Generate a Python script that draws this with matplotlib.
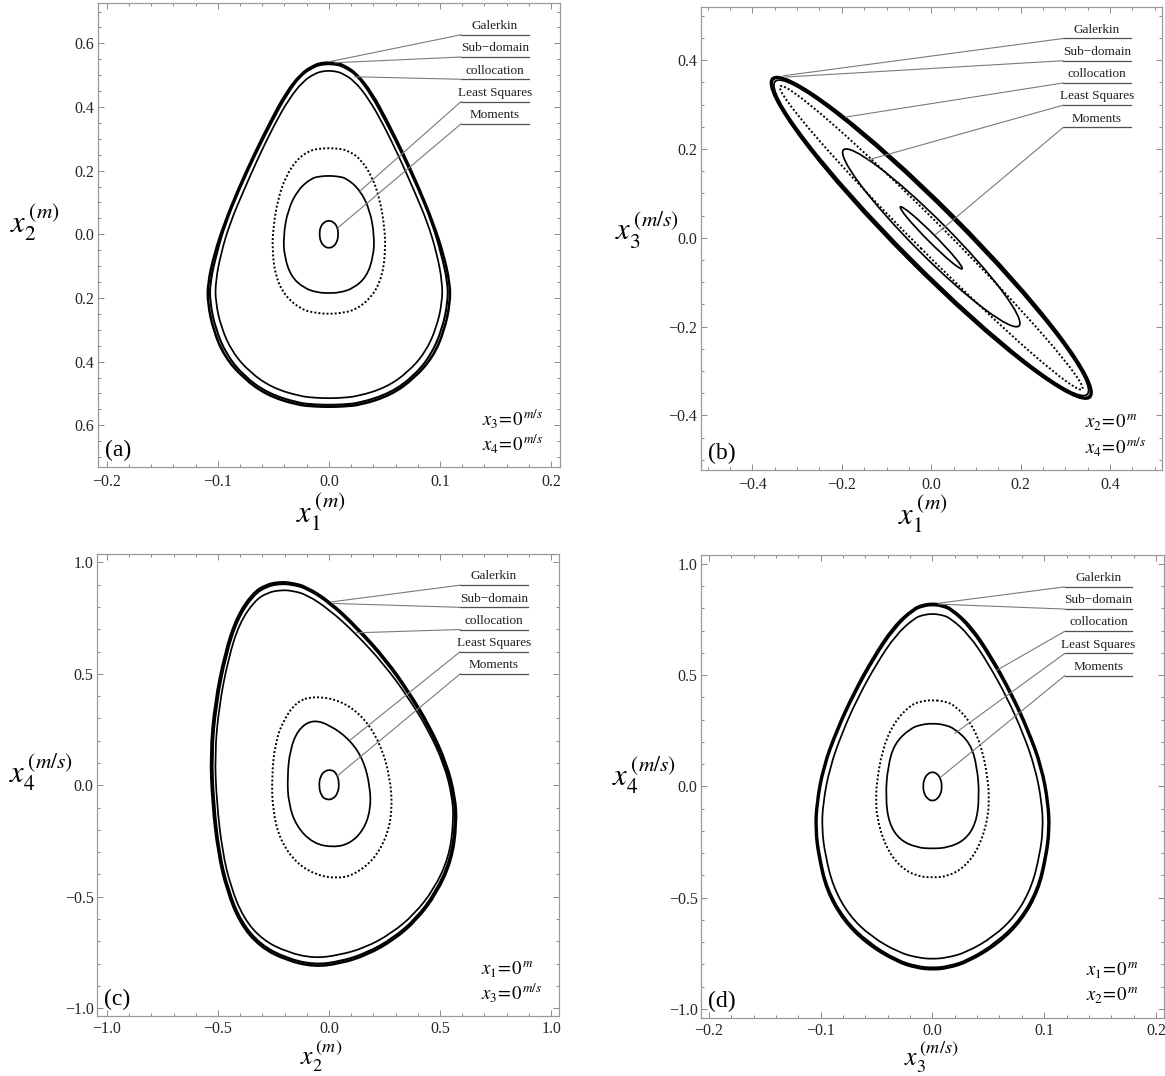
import numpy as np
import matplotlib.pyplot as plt
from matplotlib.patches import Ellipse, PathPatch
from matplotlib.path import Path
from matplotlib.ticker import MultipleLocator

plt.rcParams['font.family'] = ['Liberation Serif', 'DejaVu Serif']
plt.rcParams['mathtext.fontset'] = 'stix'

methods = ['Galerkin', 'Sub\u2212domain', 'collocation', 'Least Squares', 'Moments']

# ---- panel (a): x1-x2 plane, left halves (top -> bottom), curves are symmetric
a_gal_x = [0.000, -0.007, -0.013, -0.025, -0.039, -0.052, -0.067, -0.082, -0.094, -0.103, -0.109, -0.109, -0.104, -0.094, -0.077, -0.056, -0.029, -0.012, 0.000]
a_gal_y = [0.540, 0.538, 0.532, 0.506, 0.443, 0.359, 0.254, 0.139, 0.035, -0.060, -0.154, -0.217, -0.301, -0.384, -0.452, -0.505, -0.536, -0.541, -0.542]
a_sub_x = [0.000, -0.007, -0.013, -0.025, -0.038, -0.051, -0.066, -0.081, -0.093, -0.101, -0.107, -0.107, -0.102, -0.092, -0.076, -0.055, -0.028, -0.012, 0.000]
a_sub_y = [0.535, 0.533, 0.527, 0.501, 0.439, 0.356, 0.252, 0.138, 0.035, -0.059, -0.152, -0.214, -0.297, -0.379, -0.447, -0.499, -0.530, -0.535, -0.536]
a_col_x = [0.000, -0.006, -0.012, -0.023, -0.036, -0.049, -0.063, -0.077, -0.089, -0.097, -0.102, -0.102, -0.097, -0.087, -0.071, -0.051, -0.026, -0.011, 0.000]
a_col_y = [0.514, 0.512, 0.506, 0.482, 0.425, 0.345, 0.245, 0.135, 0.035, -0.058, -0.148, -0.212, -0.292, -0.370, -0.434, -0.482, -0.509, -0.514, -0.515]
a_dash_x = [0.000, -0.008, -0.016, -0.028, -0.039, -0.046, -0.050, -0.051, -0.048, -0.039, -0.024, -0.010, 0.000]
a_dash_y = [0.271, 0.269, 0.265, 0.239, 0.181, 0.108, 0.024, -0.049, -0.133, -0.196, -0.238, -0.248, -0.250]
a_ls_x = [0.000, -0.008, -0.016, -0.028, -0.037, -0.041, -0.040, -0.034, -0.022, -0.010, 0.000]
a_ls_y = [0.184, 0.182, 0.176, 0.139, 0.076, -0.007, -0.070, -0.133, -0.170, -0.183, -0.185]
a_mom_x = [0.000, -0.0045, -0.0078, -0.0085, -0.0076, -0.0044, 0.000]
a_mom_y = [0.044, 0.038, 0.022, 0.000, -0.022, -0.038, -0.044]

# ---- panel (b): x1-x3 plane, thin tilted ellipses (semi-axes, tilt in degrees)
b_major = [0.505, 0.502, 0.496, 0.279, 0.098]
b_minor = [0.070, 0.067, 0.064, 0.040, 0.009]
b_dash_major = 0.480
b_dash_minor = 0.033
b_tilt = -45.3

# ---- panel (c): x2-x4 plane, full curves (clockwise from top)
c_gal_x = [-0.225, -0.170, -0.101, 0.005, 0.125, 0.260, 0.365, 0.455, 0.530, 0.568, 0.575, 0.553, 0.485, 0.395, 0.290, 0.170, 0.050, -0.068, -0.191, -0.311, -0.401, -0.461, -0.500, -0.526, -0.535, -0.515, -0.470, -0.416, -0.345, -0.285]
c_gal_y = [0.912, 0.909, 0.891, 0.823, 0.711, 0.562, 0.412, 0.263, 0.098, -0.052, -0.171, -0.336, -0.485, -0.605, -0.695, -0.762, -0.800, -0.814, -0.786, -0.725, -0.620, -0.470, -0.306, -0.081, 0.143, 0.367, 0.592, 0.756, 0.861, 0.900]
c_sub_x = [-0.223, -0.168, -0.100, 0.004, 0.122, 0.256, 0.360, 0.450, 0.524, 0.562, 0.569, 0.547, 0.480, 0.391, 0.287, 0.168, 0.049, -0.068, -0.189, -0.307, -0.396, -0.455, -0.494, -0.519, -0.528, -0.508, -0.464, -0.411, -0.341, -0.282]
c_sub_y = [0.904, 0.901, 0.883, 0.816, 0.705, 0.557, 0.408, 0.260, 0.097, -0.051, -0.169, -0.332, -0.479, -0.598, -0.687, -0.753, -0.791, -0.805, -0.777, -0.717, -0.613, -0.465, -0.303, -0.080, 0.142, 0.363, 0.586, 0.749, 0.853, 0.892]
c_col_x = [-0.220, -0.165, -0.100, 0.000, 0.117, 0.250, 0.355, 0.445, 0.518, 0.555, 0.561, 0.540, 0.474, 0.384, 0.280, 0.162, 0.045, -0.068, -0.186, -0.300, -0.386, -0.444, -0.481, -0.506, -0.515, -0.496, -0.454, -0.404, -0.335, -0.278]
c_col_y = [0.876, 0.873, 0.855, 0.789, 0.684, 0.540, 0.396, 0.252, 0.094, -0.050, -0.165, -0.322, -0.464, -0.579, -0.665, -0.729, -0.762, -0.776, -0.750, -0.694, -0.595, -0.452, -0.294, -0.078, 0.137, 0.352, 0.568, 0.727, 0.828, 0.864]
c_dash_x = [-0.071, 0.050, 0.155, 0.230, 0.275, 0.285, 0.260, 0.200, 0.110, 0.035, -0.056, -0.146, -0.221, -0.254, -0.258, -0.243, -0.206, -0.146]
c_dash_y = [0.400, 0.382, 0.307, 0.188, 0.038, -0.111, -0.231, -0.336, -0.403, -0.418, -0.403, -0.351, -0.246, -0.111, 0.038, 0.188, 0.292, 0.375]
c_ls_x = [-0.075, 0.005, 0.095, 0.155, 0.185, 0.187, 0.155, 0.095, 0.020, -0.071, -0.146, -0.183, -0.188, -0.176, -0.140]
c_ls_y = [0.295, 0.270, 0.203, 0.113, -0.007, -0.111, -0.201, -0.261, -0.279, -0.261, -0.186, -0.081, 0.038, 0.158, 0.250]
c_mom_x = [0.012, 0.035, 0.046, 0.040, 0.018, -0.012, -0.035, -0.046, -0.040, -0.018]
c_mom_y = [0.070, 0.052, 0.010, -0.035, -0.062, -0.065, -0.048, -0.005, 0.040, 0.066]

# ---- panel (d): x3-x4 plane, left halves (top -> bottom)
d_gal_x = [0.000, -0.008, -0.017, -0.035, -0.053, -0.071, -0.086, -0.098, -0.104, -0.105, -0.102, -0.095, -0.080, -0.059, -0.032, -0.014, 0.000]
d_gal_y = [0.822, 0.817, 0.800, 0.718, 0.582, 0.418, 0.253, 0.088, -0.077, -0.197, -0.317, -0.467, -0.602, -0.707, -0.789, -0.817, -0.824]
d_sub_x = [0.000, -0.008, -0.017, -0.034, -0.052, -0.070, -0.085, -0.097, -0.103, -0.104, -0.101, -0.094, -0.079, -0.058, -0.032, -0.014, 0.000]
d_sub_y = [0.815, 0.810, 0.793, 0.712, 0.577, 0.414, 0.251, 0.087, -0.076, -0.195, -0.314, -0.462, -0.596, -0.700, -0.781, -0.809, -0.816]
d_col_x = [0.000, -0.008, -0.016, -0.033, -0.050, -0.067, -0.081, -0.092, -0.098, -0.099, -0.096, -0.089, -0.075, -0.055, -0.030, -0.013, 0.000]
d_col_y = [0.776, 0.771, 0.757, 0.680, 0.552, 0.397, 0.240, 0.083, -0.075, -0.193, -0.307, -0.450, -0.578, -0.675, -0.747, -0.770, -0.776]
d_dash_x = [0.000, -0.010, -0.020, -0.035, -0.045, -0.050, -0.0505, -0.050, -0.042, -0.029, -0.014, 0.000]
d_dash_y = [0.388, 0.383, 0.365, 0.283, 0.163, 0.013, -0.047, -0.137, -0.272, -0.362, -0.404, -0.410]
d_ls_x = [0.000, -0.010, -0.020, -0.034, -0.040, -0.042, -0.039, -0.029, -0.014, 0.000]
d_ls_y = [0.283, 0.278, 0.260, 0.193, 0.088, -0.047, -0.167, -0.242, -0.275, -0.280]
d_mom_x = [0.000, -0.0043, -0.0075, -0.0085, -0.0075, -0.0043, 0.000]
d_mom_y = [0.066, 0.057, 0.033, 0.000, -0.033, -0.057, -0.066]

# where the label leaders touch the curves (data coords)
a_anchor = [(0.000, 0.542), (0.005, 0.539), (0.023, 0.495), (0.028, 0.136), (0.008, 0.020)]
b_anchor = [(-0.331, 0.365), (-0.329, 0.362), (-0.192, 0.272), (-0.143, 0.175), (0.008, 0.006)]
c_anchor = [(0.012, 0.823), (0.016, 0.816), (0.117, 0.684), (0.095, 0.203), (0.037, 0.042)]
d_anchor = [(0.005, 0.823), (0.006, 0.819), (0.057, 0.520), (0.020, 0.238), (0.007, 0.040)]


def egg(xh, yh):
    # left half; the right half is its mirror image
    xh = np.asarray(xh)
    yh = np.asarray(yh)
    return np.r_[xh, -xh[-2:0:-1]], np.r_[yh, yh[-2:0:-1]]


def smooth_path(x, y):
    # closed quadratic B-spline, the read points act as control points
    p = np.column_stack([x, y])
    mid = (p + np.roll(p, -1, axis=0)) / 2
    verts = [mid[-1]]
    codes = [Path.MOVETO]
    for i in range(len(p)):
        verts += [p[i], mid[i]]
        codes += [Path.CURVE3, Path.CURVE3]
    return Path(verts, codes)


lw = {'gal': 1.8, 'sub': 1.5, 'col': 1.25, 'ls': 1.25, 'mom': 1.25}
dash_ls = (0, (1.0, 1.1))


def draw(ax, x, y, width, ls='solid'):
    ax.add_patch(PathPatch(smooth_path(x, y), fill=False, ec='black', lw=width,
                           ls=ls, joinstyle='round', capstyle='butt'))


fig = plt.figure(figsize=(11.65, 10.76), dpi=100)
ax_a = fig.add_axes([0.0839, 0.566, 0.3968, 0.431])
ax_b = fig.add_axes([0.6017, 0.5632, 0.3957, 0.4303])
ax_c = fig.add_axes([0.0833, 0.0558, 0.3966, 0.4296])
ax_d = fig.add_axes([0.6019, 0.0541, 0.3970, 0.4297])


def frame(ax, xlim, ylim, xt, xtl, yt, ytl, xminor, yminor, xpad=5):
    ax.set_xlim(*xlim)
    ax.set_ylim(*ylim)
    ax.set_xticks(xt)
    ax.set_xticklabels(xtl)
    ax.set_yticks(yt)
    ax.set_yticklabels(ytl)
    ax.xaxis.set_minor_locator(MultipleLocator(xminor))
    ax.yaxis.set_minor_locator(MultipleLocator(yminor))
    ax.tick_params(which='both', direction='in', top=True, right=True,
                   color='#8a8a8a', width=0.7, labelsize=11.5, labelcolor='#262626')
    ax.tick_params(which='major', length=4.5)
    ax.tick_params(which='minor', length=2.5)
    ax.tick_params(axis='x', pad=xpad)
    ax.tick_params(axis='y', pad=2.5)
    for s in ax.spines.values():
        s.set_color('#9a9a9a')
        s.set_linewidth(0.9)


def labels(ax, anchors):
    ys = [0.932, 0.884, 0.836, 0.788, 0.740]
    for name, (xa, ya), yf in zip(methods, anchors, ys):
        ax.annotate('', xy=(xa, ya), xycoords='data', xytext=(0.786, yf),
                    textcoords='axes fraction',
                    arrowprops=dict(arrowstyle='-', color='#7a7a7a', lw=0.8,
                                    shrinkA=0, shrinkB=0))
        ax.plot([0.786, 0.932], [yf, yf], transform=ax.transAxes,
                color='#505050', lw=0.9, clip_on=False)
        ax.text(0.859, yf + 0.006, name, transform=ax.transAxes, ha='center',
                va='bottom', fontsize=9.5, color='#202020')


def corner(ax, tag, l1, l2):
    ax.text(0.015, 0.024, tag, transform=ax.transAxes, fontsize=17,
            va='baseline', ha='left')
    ax.text(0.832, 0.089, l1, transform=ax.transAxes, fontsize=13.5, va='baseline')
    ax.text(0.832, 0.036, l2, transform=ax.transAxes, fontsize=13.5, va='baseline')


def axis_names(ax, xl, yl, xpos, ypos, xsize=22, xva='top'):
    # x name hangs below the tick labels, y name sits left of them
    ax.text(xpos[0], xpos[1], xl, transform=ax.transAxes, fontsize=xsize,
            ha='center', va=xva)
    ax.text(ypos[0], ypos[1], yl, transform=ax.transAxes, fontsize=22,
            ha='center', va='center')


M = '\u2212'

# (a)
for key, hx, hy in [('gal', a_gal_x, a_gal_y), ('sub', a_sub_x, a_sub_y),
                    ('col', a_col_x, a_col_y), ('ls', a_ls_x, a_ls_y),
                    ('mom', a_mom_x, a_mom_y)]:
    draw(ax_a, *egg(hx, hy), lw[key])
draw(ax_a, *egg(a_dash_x, a_dash_y), 1.4, dash_ls)
frame(ax_a, (-0.208, 0.208), (-0.731, 0.726),
      [-0.2, -0.1, 0, 0.1, 0.2], [M + '0.2', M + '0.1', '0.0', '0.1', '0.2'],
      [-0.6, -0.4, -0.2, 0, 0.2, 0.4, 0.6], ['0.6', '0.4', '0.2', '0.0', '0.2', '0.4', '0.6'],
      0.02, 0.05)
labels(ax_a, a_anchor)
corner(ax_a, '(a)', r'$x_3\!=\!0^{\,m/s}$', r'$x_4\!=\!0^{\,m/s}$')
axis_names(ax_a, r'$x_1^{\,(m)}$', r'$x_2^{\,(m)}$', (0.482, -0.052), (-0.136, 0.526))

# (b)
for key, a, b in zip(['gal', 'sub', 'col', 'ls', 'mom'], b_major, b_minor):
    ax_b.add_patch(Ellipse((0, 0), 2 * a, 2 * b, angle=b_tilt, fill=False,
                           ec='black', lw=lw[key]))
ax_b.add_patch(Ellipse((0, 0), 2 * b_dash_major, 2 * b_dash_minor, angle=b_tilt,
                       fill=False, ec='black', lw=1.4, ls=dash_ls))
frame(ax_b, (-0.515, 0.516), (-0.523, 0.520),
      [-0.4, -0.2, 0, 0.2, 0.4], [M + '0.4', M + '0.2', '0.0', '0.2', '0.4'],
      [-0.4, -0.2, 0, 0.2, 0.4], [M + '0.4', M + '0.2', '0.0', '0.2', '0.4'],
      0.05, 0.05)
labels(ax_b, b_anchor)
corner(ax_b, '(b)', r'$x_2\!=\!0^{\,m}$', r'$x_4\!=\!0^{\,m/s}$')
axis_names(ax_b, r'$x_1^{\,(m)}$', r'$x_3^{\,(m/s)}$', (0.481, -0.052), (-0.117, 0.518))

# (c)
for key, cx, cy in [('gal', c_gal_x, c_gal_y), ('sub', c_sub_x, c_sub_y),
                    ('col', c_col_x, c_col_y), ('ls', c_ls_x, c_ls_y),
                    ('mom', c_mom_x, c_mom_y)]:
    draw(ax_c, cx, cy, lw[key])
draw(ax_c, c_dash_x, c_dash_y, 1.4, dash_ls)
frame(ax_c, (-1.045, 1.036), (-1.035, 1.039),
      [-1, -0.5, 0, 0.5, 1], [M + '1.0', M + '0.5', '0.0', '0.5', '1.0'],
      [-1, -0.5, 0, 0.5, 1], [M + '1.0', M + '0.5', '0.0', '0.5', '1.0'],
      0.1, 0.1, xpad=3.5)
labels(ax_c, c_anchor)
corner(ax_c, '(c)', r'$x_1\!=\!0^{\,m}$', r'$x_3\!=\!0^{\,m/s}$')
axis_names(ax_c, r'$x_2^{\,(m)}$', r'$x_4^{\,(m/s)}$', (0.485, -0.126), (-0.122, 0.526),
           18.5, 'bottom')

# (d)
for key, hx, hy in [('gal', d_gal_x, d_gal_y), ('sub', d_sub_x, d_sub_y),
                    ('col', d_col_x, d_col_y), ('ls', d_ls_x, d_ls_y),
                    ('mom', d_mom_x, d_mom_y)]:
    draw(ax_d, *egg(hx, hy), lw[key])
draw(ax_d, *egg(d_dash_x, d_dash_y), 1.4, dash_ls)
frame(ax_d, (-0.207, 0.207), (-1.040, 1.038),
      [-0.2, -0.1, 0, 0.1, 0.2], [M + '0.2', M + '0.1', '0.0', '0.1', '0.2'],
      [-1, -0.5, 0, 0.5, 1], [M + '1.0', M + '0.5', '0.0', '0.5', '1.0'],
      0.02, 0.1, xpad=3.5)
labels(ax_d, d_anchor)
corner(ax_d, '(d)', r'$x_1\!=\!0^{\,m}$', r'$x_2\!=\!0^{\,m}$')
axis_names(ax_d, r'$x_3^{\,(m/s)}$', r'$x_4^{\,(m/s)}$', (0.498, -0.123), (-0.125, 0.523),
           18.5, 'bottom')

fig.savefig('out.png', dpi=100)
plt.close(fig)
